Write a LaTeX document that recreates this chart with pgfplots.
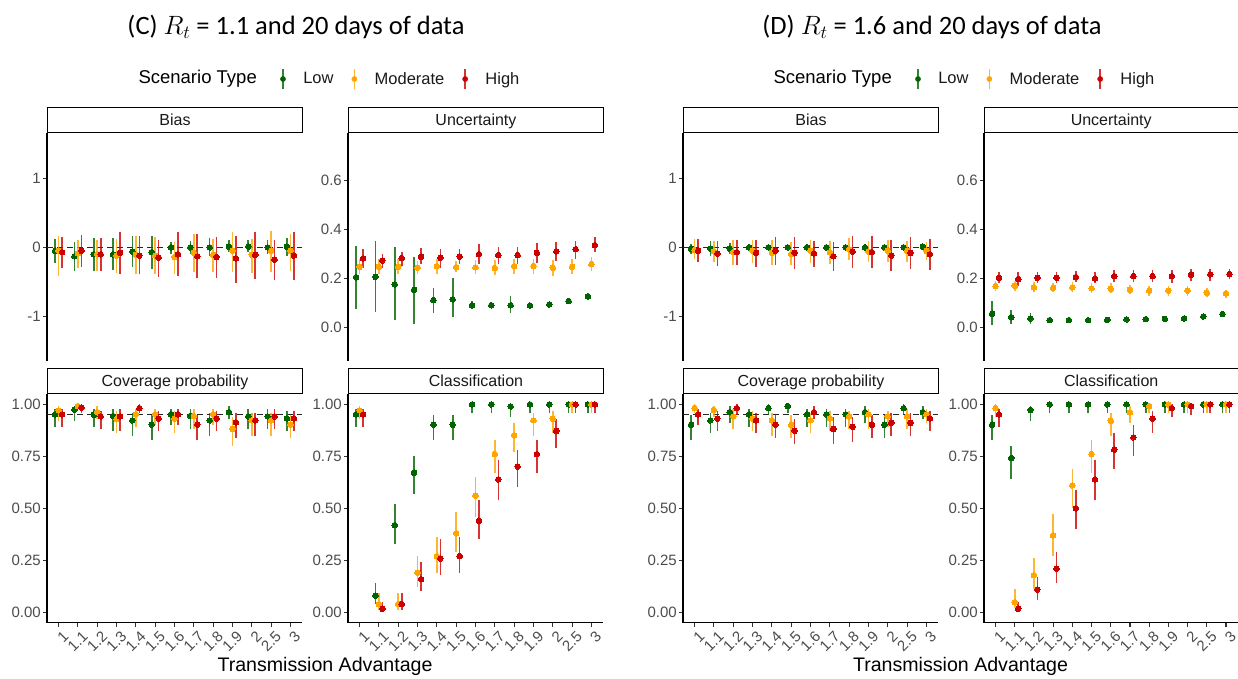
\RequirePackage{fix-cm}
\documentclass[border=0pt]{standalone}
\usepackage{pgfplots}
\pgfplotsset{compat=1.18}
\usepackage{pgfplotstable}
\usepackage{fontspec}
\setmainfont{Liberation Sans}
\newfontfamily\titlefont{Carlito}
\definecolor{gcol}{RGB}{0,100,0}
\definecolor{ocol}{RGB}{255,165,0}
\definecolor{rcol}{RGB}{205,0,0}

% columns: category index, Low (mean, lower, upper), Moderate, High
\pgfplotstableread{
i gm glo ghi om olo ohi rm rlo rhi
1 -0.05 -0.22 0.12 -0.05 -0.41 0.17 -0.07 -0.30 0.15
2 -0.13 -0.35 0.08 -0.09 -0.30 0.11 -0.05 -0.28 0.18
3 -0.10 -0.35 0.14 -0.10 -0.34 0.10 -0.10 -0.34 0.14
4 -0.10 -0.33 0.13 -0.12 -0.37 0.12 -0.08 -0.38 0.22
5 -0.06 -0.29 0.17 -0.11 -0.39 0.17 -0.12 -0.39 0.16
6 -0.07 -0.31 0.16 -0.12 -0.39 0.15 -0.15 -0.43 0.11
7 0.00 -0.09 0.08 -0.14 -0.38 0.08 -0.10 -0.42 0.23
8 0.00 -0.10 0.09 -0.08 -0.36 0.20 -0.13 -0.45 0.19
9 0.00 -0.13 0.14 -0.11 -0.36 0.12 -0.14 -0.44 0.15
10 0.01 -0.07 0.10 -0.05 -0.36 0.23 -0.16 -0.52 0.17
11 0.01 -0.07 0.10 -0.11 -0.37 0.12 -0.11 -0.46 0.22
12 0.00 -0.10 0.11 -0.05 -0.36 0.24 -0.18 -0.47 0.10
13 0.01 -0.12 0.14 -0.05 -0.34 0.20 -0.12 -0.47 0.22
}\biasC
\pgfplotstableread{
i gm glo ghi om olo ohi rm rlo rhi
1 0.205 0.075 0.333 0.248 0.217 0.278 0.282 0.244 0.319
2 0.207 0.063 0.352 0.248 0.217 0.278 0.274 0.245 0.301
3 0.176 0.029 0.327 0.248 0.220 0.280 0.284 0.250 0.310
4 0.154 0.014 0.290 0.244 0.220 0.270 0.289 0.260 0.325
5 0.112 0.060 0.162 0.251 0.220 0.280 0.285 0.245 0.320
6 0.115 0.041 0.203 0.246 0.225 0.270 0.290 0.260 0.320
7 0.091 0.075 0.110 0.246 0.220 0.275 0.300 0.260 0.340
8 0.091 0.080 0.105 0.243 0.215 0.275 0.296 0.260 0.330
9 0.091 0.060 0.130 0.251 0.220 0.280 0.296 0.260 0.330
10 0.090 0.080 0.100 0.251 0.220 0.280 0.305 0.265 0.345
11 0.094 0.085 0.103 0.244 0.210 0.275 0.311 0.270 0.350
12 0.108 0.100 0.117 0.248 0.220 0.280 0.320 0.280 0.355
13 0.127 0.115 0.140 0.259 0.230 0.290 0.337 0.310 0.370
}\uncC
\pgfplotstableread{
i gm glo ghi om olo ohi rm rlo rhi
1 0.952 0.89 0.98 0.971 0.92 0.99 0.952 0.89 0.98
2 0.974 0.92 0.99 0.992 0.98 1.00 0.984 0.96 1.00
3 0.950 0.89 0.98 0.963 0.93 0.99 0.942 0.88 0.97
4 0.944 0.87 0.98 0.929 0.86 0.97 0.942 0.87 0.98
5 0.923 0.85 0.96 0.952 0.89 0.98 0.982 0.96 1.00
6 0.903 0.83 0.95 0.952 0.90 0.98 0.932 0.87 0.97
7 0.952 0.90 0.98 0.932 0.86 0.97 0.952 0.90 0.98
8 0.944 0.88 0.98 0.944 0.88 0.98 0.903 0.83 0.95
9 0.923 0.85 0.96 0.952 0.90 0.98 0.932 0.87 0.97
10 0.963 0.93 0.99 0.882 0.80 0.94 0.913 0.84 0.96
11 0.942 0.88 0.98 0.923 0.85 0.96 0.923 0.85 0.96
12 0.942 0.88 0.98 0.923 0.85 0.96 0.942 0.88 0.98
13 0.932 0.87 0.97 0.903 0.84 0.95 0.932 0.87 0.97
}\covC
\pgfplotstableread{
i gm glo ghi om olo ohi rm rlo rhi
1 0.952 0.89 0.98 0.971 0.93 0.99 0.952 0.89 0.98
2 0.079 0.04 0.14 0.039 0.01 0.09 0.016 0.00 0.05
3 0.419 0.33 0.52 0.039 0.01 0.09 0.039 0.01 0.09
4 0.671 0.57 0.75 0.190 0.12 0.27 0.159 0.10 0.24
5 0.902 0.83 0.95 0.270 0.19 0.36 0.258 0.18 0.35
6 0.902 0.83 0.95 0.379 0.29 0.48 0.270 0.19 0.36
7 1.000 0.96 1.00 0.560 0.46 0.65 0.440 0.35 0.54
8 1.000 0.96 1.00 0.761 0.67 0.83 0.639 0.54 0.73
9 0.990 0.94 1.00 0.851 0.77 0.91 0.701 0.60 0.78
10 1.000 0.96 1.00 0.923 0.85 0.96 0.761 0.67 0.83
11 1.000 0.96 1.00 0.930 0.86 0.97 0.872 0.79 0.93
12 1.000 0.96 1.00 1.000 0.96 1.00 1.000 0.96 1.00
13 1.000 0.96 1.00 1.000 0.96 1.00 1.000 0.96 1.00
}\clsC
\pgfplotstableread{
i gm glo ghi om olo ohi rm rlo rhi
1 -0.02 -0.10 0.05 -0.04 -0.17 0.12 -0.05 -0.21 0.12
2 -0.02 -0.13 0.09 -0.06 -0.21 0.09 -0.09 -0.27 0.09
3 -0.02 -0.10 0.07 -0.07 -0.25 0.10 -0.07 -0.25 0.11
4 0.00 -0.01 0.01 -0.05 -0.23 0.10 -0.08 -0.29 0.10
5 0.00 -0.01 0.01 -0.08 -0.25 0.10 -0.05 -0.26 0.15
6 0.00 -0.01 0.01 -0.10 -0.26 0.08 -0.08 -0.32 0.15
7 0.00 -0.01 0.01 -0.05 -0.22 0.10 -0.09 -0.28 0.09
8 0.00 -0.01 0.01 -0.07 -0.24 0.09 -0.13 -0.35 0.08
9 0.00 -0.01 0.01 -0.03 -0.19 0.13 -0.06 -0.30 0.16
10 0.00 -0.01 0.01 -0.06 -0.21 0.09 -0.07 -0.30 0.16
11 0.00 -0.01 0.01 -0.05 -0.21 0.11 -0.12 -0.34 0.10
12 0.00 -0.01 0.01 -0.05 -0.21 0.09 -0.08 -0.31 0.15
13 0.01 0.00 0.03 -0.05 -0.18 0.08 -0.10 -0.33 0.12
}\biasD
\pgfplotstableread{
i gm glo ghi om olo ohi rm rlo rhi
1 0.056 0.010 0.110 0.169 0.150 0.190 0.203 0.180 0.225
2 0.042 0.015 0.070 0.170 0.150 0.190 0.198 0.170 0.225
3 0.037 0.015 0.060 0.164 0.145 0.185 0.203 0.180 0.225
4 0.030 0.028 0.032 0.162 0.145 0.180 0.203 0.180 0.225
5 0.030 0.028 0.032 0.164 0.145 0.185 0.206 0.185 0.230
6 0.030 0.028 0.032 0.160 0.140 0.180 0.200 0.180 0.225
7 0.031 0.029 0.033 0.158 0.140 0.180 0.210 0.185 0.235
8 0.033 0.031 0.035 0.154 0.135 0.175 0.210 0.185 0.235
9 0.034 0.032 0.036 0.151 0.130 0.170 0.210 0.185 0.235
10 0.035 0.033 0.037 0.151 0.130 0.170 0.210 0.180 0.235
11 0.037 0.035 0.039 0.151 0.130 0.170 0.216 0.190 0.240
12 0.045 0.040 0.050 0.142 0.125 0.160 0.217 0.190 0.240
13 0.055 0.050 0.060 0.139 0.120 0.155 0.218 0.200 0.240
}\uncD
\pgfplotstableread{
i gm glo ghi om olo ohi rm rlo rhi
1 0.902 0.83 0.95 0.982 0.96 1.00 0.952 0.90 0.98
2 0.923 0.86 0.96 0.973 0.94 0.99 0.932 0.87 0.97
3 0.963 0.91 0.99 0.942 0.88 0.98 0.982 0.95 1.00
4 0.952 0.89 0.98 0.932 0.87 0.97 0.923 0.86 0.96
5 0.982 0.95 1.00 0.923 0.85 0.96 0.902 0.84 0.95
6 0.992 0.96 1.00 0.902 0.84 0.95 0.873 0.81 0.93
7 0.952 0.89 0.98 0.923 0.86 0.96 0.963 0.93 0.99
8 0.952 0.89 0.98 0.932 0.87 0.97 0.882 0.81 0.94
9 0.952 0.89 0.98 0.942 0.88 0.97 0.892 0.82 0.94
10 0.963 0.91 0.99 0.952 0.88 0.98 0.902 0.84 0.95
11 0.902 0.84 0.95 0.942 0.89 0.97 0.911 0.85 0.96
12 0.982 0.95 1.00 0.942 0.88 0.98 0.911 0.85 0.96
13 0.963 0.93 0.99 0.952 0.91 0.98 0.932 0.87 0.97
}\covD
\pgfplotstableread{
i gm glo ghi om olo ohi rm rlo rhi
1 0.902 0.83 0.95 0.982 0.94 1.00 0.952 0.89 0.98
2 0.742 0.64 0.80 0.048 0.02 0.11 0.016 0.00 0.05
3 0.973 0.92 0.99 0.178 0.11 0.26 0.109 0.06 0.17
4 1.000 0.96 1.00 0.369 0.27 0.47 0.209 0.14 0.29
5 1.000 0.96 1.00 0.610 0.50 0.69 0.499 0.40 0.59
6 1.000 0.96 1.00 0.761 0.67 0.83 0.639 0.54 0.73
7 1.000 0.96 1.00 0.921 0.85 0.96 0.782 0.69 0.86
8 1.000 0.96 1.00 0.961 0.91 0.99 0.841 0.75 0.90
9 1.000 0.96 1.00 0.992 0.96 1.00 0.931 0.86 0.97
10 1.000 0.96 1.00 1.000 0.96 1.00 0.982 0.94 1.00
11 1.000 0.96 1.00 1.000 0.96 1.00 0.992 0.95 1.00
12 1.000 0.96 1.00 1.000 0.96 1.00 1.000 0.96 1.00
13 1.000 0.96 1.00 1.000 0.96 1.00 1.000 0.96 1.00
}\clsD

\newcommand{\series}[4]{%
\addplot[forget plot, only marks, mark=*, mark size=2.8pt, color=#3,
  mark options={fill=#3, draw=#3, line width=0pt},
  error bars/.cd, y dir=both, y explicit, error mark=none,
  error bar style={line width=1.6pt, color=#3, opacity=0.8}]
  table[x expr=\thisrow{i}#4, y=#2m,
        y error plus expr=\thisrow{#2hi}-\thisrow{#2m},
        y error minus expr=\thisrow{#2m}-\thisrow{#2lo}] {#1};}
\newcommand{\allseries}[1]{\series{#1}{g}{gcol}{-0.18}\series{#1}{o}{ocol}{+0}\series{#1}{r}{rcol}{+0.18}}
\newcommand{\refline}[1]{\addplot[forget plot, black!85, line width=1.2pt, dash pattern=on 6pt off 4pt] coordinates {(0.4,#1) (13.6,#1)};}
\newcommand{\legimgs}{%
\addlegendimage{legend image code/.code={\draw[line width=1.4pt, gcol, opacity=0.8] (0pt,-10pt)--(0pt,10pt); \fill[gcol] (0pt,0pt) circle (2.6pt);}}
\addlegendentry{Low}
\addlegendimage{legend image code/.code={\draw[line width=1.4pt, ocol, opacity=0.8] (0pt,-10pt)--(0pt,10pt); \fill[ocol] (0pt,0pt) circle (2.6pt);}}
\addlegendentry{Moderate}
\addlegendimage{legend image code/.code={\draw[line width=1.4pt, rcol, opacity=0.8] (0pt,-10pt)--(0pt,10pt); \fill[rcol] (0pt,0pt) circle (2.6pt);}}
\addlegendentry{High}}

\pgfplotsset{
  panel/.style={scale only axis, width=255pt, height=228pt, xmin=0.4, xmax=13.6,
    tick align=outside, major tick length=4pt,
    axis line style={line width=1.1pt, black},
    every tick/.append style={line width=1.1pt, black!80},
    tick label style={font=\fontsize{15}{15}\selectfont, text=black!70},
    yticklabel style={inner sep=2pt}},
  toprow/.style={axis x line=none, axis y line*=left},
  botrow/.style={axis x line*=bottom, axis y line*=left, height=228.5pt,
    xtick={1,2,3,4,5,6,7,8,9,10,11,12,13},
    xticklabels={1,1.1,1.2,1.3,1.4,1.5,1.6,1.7,1.8,1.9,2,2.5,3},
    xticklabel style={rotate=45, anchor=north east, inner sep=1pt, yshift=-4pt, xshift=1pt},
    ymin=-0.05, ymax=1.05, ytick={0,0.25,0.5,0.75,1},
    yticklabels={0.00,0.25,0.50,0.75,1.00}},
  biasax/.style={ymin=-1.65, ymax=1.66, ytick={-1,0,1}, yticklabels={-1,0,1}},
  uncax/.style={ymin=-0.137, ymax=0.795, ytick={0,0.2,0.4,0.6}, yticklabels={0.0,0.2,0.4,0.6}},
  leg/.style={legend style={at={(#1,1.2368)}, anchor=west, draw=none, fill=none,
    legend columns=-1, inner sep=0pt, nodes={inner sep=0pt},
    font=\fontsize{16.5}{17}\selectfont, text=black!90,
    /tikz/every odd column/.append style={column sep=17.5pt},
    /tikz/every even column/.append style={column sep=18pt}}},
}

\tikzset{strip/.style={draw=black, line width=0.9pt, fill=white, minimum height=25pt,
  inner sep=0pt, anchor=south west, text height=11.5pt, text depth=0pt,
  font=\fontsize{16}{16}\selectfont, text=black!90}}

\begin{document}
\begin{tikzpicture}
\useasboundingbox (0pt,0pt) rectangle (1238pt,-679pt);

% ---------------- (C) ----------------
\begin{axis}[panel, toprow, biasax, leg=0.9137, at={(47pt,-133pt)}, anchor=north west]
\refline{0}
\allseries{\biasC}
\legimgs
\end{axis}
\begin{axis}[panel, toprow, uncax, at={(348pt,-133pt)}, anchor=north west]
\allseries{\uncC}
\end{axis}
\begin{axis}[panel, botrow, at={(47pt,-394pt)}, anchor=north west]
\refline{0.95}
\allseries{\covC}
\end{axis}
\begin{axis}[panel, botrow, at={(348pt,-394pt)}, anchor=north west]
\allseries{\clsC}
\end{axis}

% ---------------- (D) ----------------
\begin{axis}[panel, toprow, biasax, leg=0.9098, at={(683pt,-133pt)}, anchor=north west]
\refline{0}
\allseries{\biasD}
\legimgs
\end{axis}
\begin{axis}[panel, toprow, uncax, width=253.5pt, at={(984pt,-133pt)}, anchor=north west]
\allseries{\uncD}
\end{axis}
\begin{axis}[panel, botrow, at={(683pt,-394pt)}, anchor=north west]
\refline{0.95}
\allseries{\covD}
\end{axis}
\begin{axis}[panel, botrow, width=253.5pt, at={(984pt,-394pt)}, anchor=north west]
\allseries{\clsD}
\end{axis}

% strips
\node[strip, minimum width=255pt] at (47pt,-133pt) {Bias};
\node[strip, minimum width=255pt] at (348pt,-133pt) {Uncertainty};
\node[strip, minimum width=255pt] at (47pt,-394pt) {Coverage probability};
\node[strip, minimum width=255pt] at (348pt,-394pt) {Classification};
\node[strip, minimum width=255pt] at (683pt,-133pt) {Bias};
\node[strip, minimum width=253.5pt] at (984pt,-133pt) {Uncertainty};
\node[strip, minimum width=255pt] at (683pt,-394pt) {Coverage probability};
\node[strip, minimum width=253.5pt] at (984pt,-394pt) {Classification};

% titles and labels
\node[font=\titlefont\fontsize{26.5}{28}\selectfont, anchor=base] at (296pt,-35pt) {(C) $R_t$ = 1.1 and 20 days of data};
\node[font=\titlefont\fontsize{26.5}{28}\selectfont, anchor=base] at (932pt,-35pt) {(D) $R_t$ = 1.6 and 20 days of data};
\node[font=\fontsize{18.5}{19}\selectfont, anchor=base west] at (135pt,-84pt) {Scenario Type};
\node[font=\fontsize{18.5}{19}\selectfont, anchor=base west] at (770pt,-84pt) {Scenario Type};
\node[font=\fontsize{19.6}{20}\selectfont, anchor=base] at (325pt,-671.5pt) {Transmission Advantage};
\node[font=\fontsize{19.6}{20}\selectfont, anchor=base] at (960.5pt,-671.5pt) {Transmission Advantage};
\end{tikzpicture}
\end{document}
